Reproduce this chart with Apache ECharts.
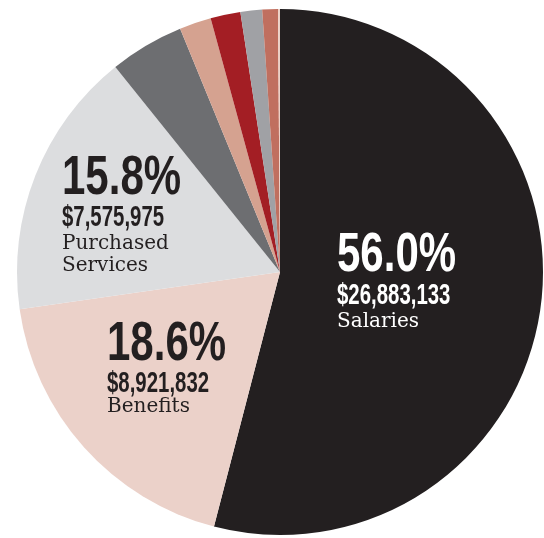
<!DOCTYPE html>
<html>
<head>
<meta charset="utf-8">
<style>html,body{margin:0;padding:0;background:#fff;}#c{width:544px;height:538px;}</style>
<script src="https://cdn.jsdelivr.net/npm/echarts@6/dist/echarts.min.js"></script>
</head>
<body>
<div id="c"></div>
<script>
// Slice names and their drawn shares (percent of the circle)
const categories = ['Salaries', 'Benefits', 'Purchased Services', 'Other A', 'Other B', 'Other C', 'Other D', 'Other E', 'Other F'];
const shares = [54.05, 18.7, 16.5, 4.57, 1.95, 1.84, 1.33, 0.96, 0.12];
const colors = ['#231f20', '#ebd1c9', '#dcdddf', '#6d6e71', '#d5a290', '#a31e24', '#a0a1a5', '#c06f5f', '#ecd0c6'];

// Label texts as printed on the chart
const pctLabels = ['56.0%', '18.6%', '15.8%'];
const amountLabels = ['$26,883,133', '$8,921,832', '$7,575,975'];
const nameLabels = [['Salaries'], ['Benefits'], ['Purchased', 'Services']];

const chart = echarts.init(document.getElementById('c'), null, {renderer: 'canvas'});

const labelLayout = [
  {x: 337, pctY: 256, amtY: 296, nameY: 322, color: '#ffffff'},
  {x: 107, pctY: 345, amtY: 384, nameY: 407, color: '#231f20'},
  {x: 62,  pctY: 179, amtY: 218, nameY: 244, color: '#231f20'}
];

const graphics = [];
labelLayout.forEach((L, i) => {
  graphics.push({
    type: 'text', x: L.x, y: L.pctY, scaleX: 0.75, z: 10,
    style: {text: pctLabels[i], fill: L.color, font: 'bold 56px "Liberation Sans", Arial, sans-serif', align: 'left', verticalAlign: 'middle'}
  });
  graphics.push({
    type: 'text', x: L.x, y: L.amtY, scaleX: 0.68, z: 10,
    style: {text: amountLabels[i], fill: L.color, font: 'bold 30px "Liberation Sans", Arial, sans-serif', align: 'left', verticalAlign: 'middle'}
  });
  nameLabels[i].forEach((t, j) => {
    graphics.push({
      type: 'text', x: L.x, y: L.nameY + j * 22, z: 10,
      style: {text: t, fill: L.color, font: '20px "DejaVu Serif", serif', align: 'left', verticalAlign: 'middle'}
    });
  });
});

chart.setOption({
  animation: false,
  backgroundColor: '#ffffff',
  series: [{
    type: 'pie',
    center: [280, 272],
    radius: 263,
    startAngle: 90,
    clockwise: true,
    avoidLabelOverlap: false,
    label: {show: false},
    labelLine: {show: false},
    itemStyle: {borderWidth: 0},
    emphasis: {disabled: true},
    data: categories.map((c, i) => ({name: c, value: shares[i], itemStyle: {color: colors[i]}}))
  }],
  graphic: graphics
});
</script>
</body>
</html>
